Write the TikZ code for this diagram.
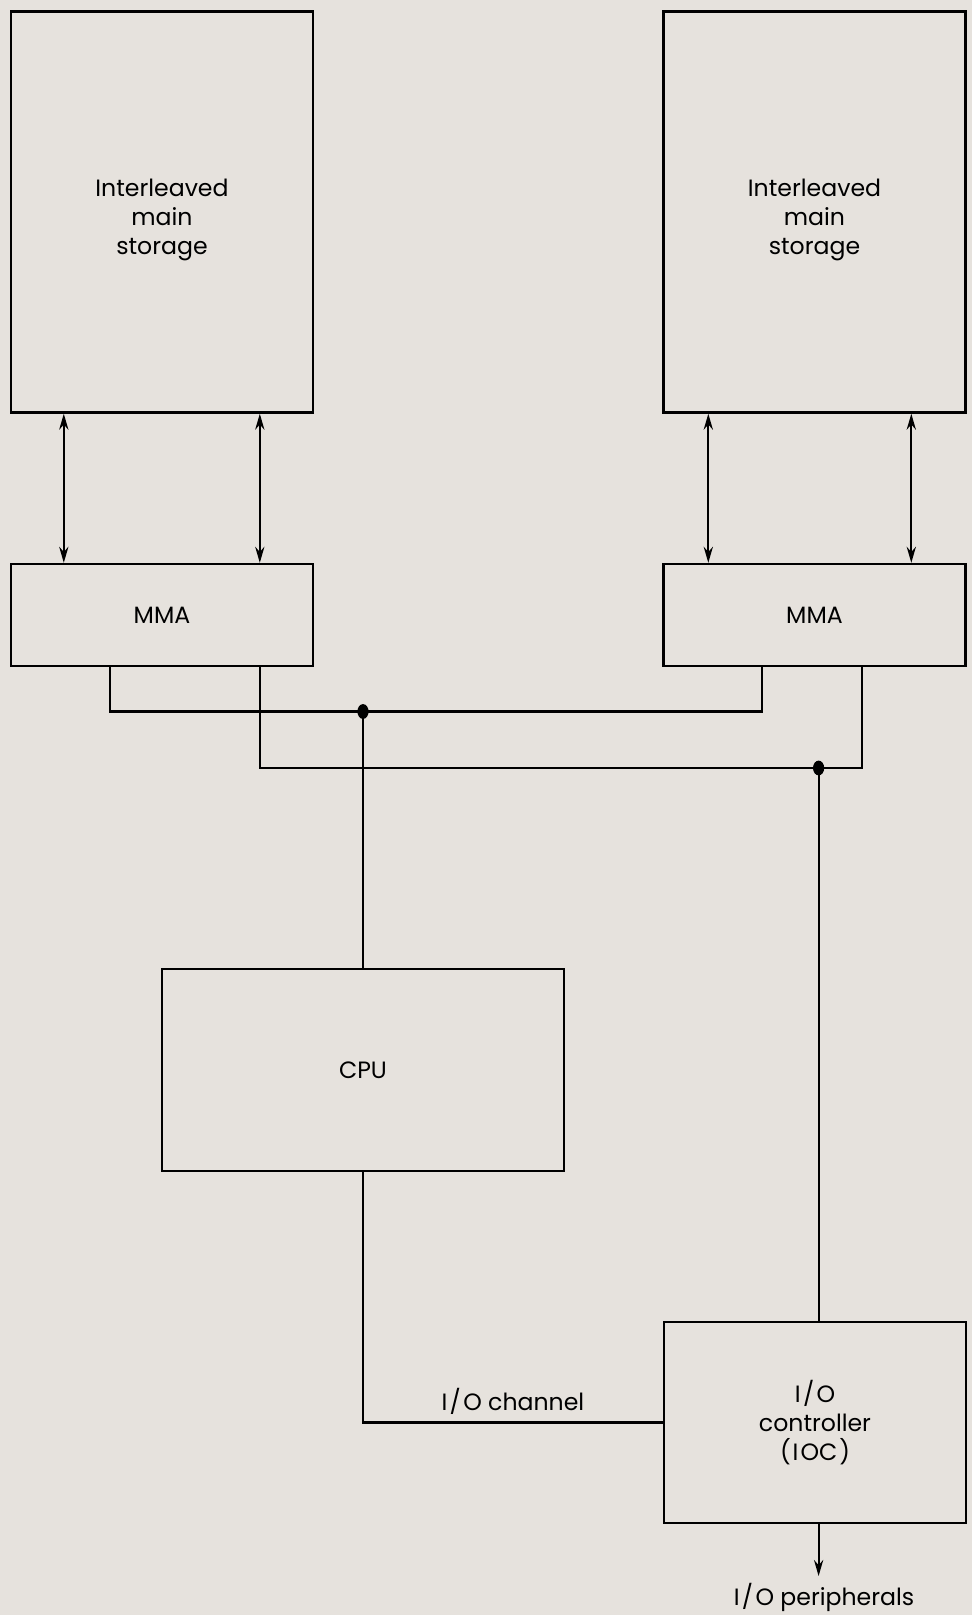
\documentclass[tikz,border=0pt]{standalone}
\usepackage{fontspec}
\setmainfont{Poppins}
\usetikzlibrary{arrows.meta, positioning, shapes.geometric}
\definecolor{paper}{HTML}{E6E2DD}
\newcommand{\iotext}{I\kern1.2pt/\kern1.2pt O}

\begin{document}
\begin{tikzpicture}[x=0.5pt, y=-0.5pt,
    box/.style={draw, line width=1.2pt, fill=paper, inner sep=0pt, align=center,
                font=\fontsize{11.8}{14.3}\selectfont},
    storebox/.style={box, minimum width=151pt, minimum height=200.5pt,
                label={[align=center, yshift=-4pt, font=\fontsize{11.8}{14.3}\selectfont]center:#1}},
    caption/.style={font=\fontsize{11.8}{14}\selectfont},
    link/.style={line width=1.1pt},
    biarrow/.style={link, {Stealth[length=8pt,width=4.6pt]}-{Stealth[length=8pt,width=4.6pt]}},
    outarrow/.style={link, -{Stealth[length=8pt,width=4.6pt]}},
    junction/.style={ellipse, fill, inner sep=0pt, minimum width=5.6pt, minimum height=7.4pt}]
  % paper
  \fill[paper] (0,0) rectangle (972,1615);
  \useasboundingbox (0,0) rectangle (972,1615);

  % storage and MMA
  \node[storebox={Interleaved\\main\\storage}] (stoL) at (162,212) {};
  \node[storebox={Interleaved\\main\\storage}] (stoR) at (814.5,212) {};
  \node[box, minimum width=151pt, minimum height=51pt] (mmaL) at (162,615) {MMA};
  \node[box, minimum width=151pt, minimum height=51pt] (mmaR) at (814.5,615) {MMA};

  \draw[biarrow] ([shift={(54,0)}]stoL.south west) -- ([shift={(54,0)}]mmaL.north west);
  \draw[biarrow] ([shift={(250,0)}]stoL.south west) -- ([shift={(250,0)}]mmaL.north west);
  \draw[biarrow] ([shift={(46,0)}]stoR.south west) -- ([shift={(46,0)}]mmaR.north west);
  \draw[biarrow] ([shift={(249,0)}]stoR.south west) -- ([shift={(249,0)}]mmaR.north west);

  % processor and I/O
  \node[box, minimum width=201pt, minimum height=101pt] (cpu) at (363,1070) {CPU};
  \node[box, minimum width=151pt, minimum height=100.5pt] (ioc) at (815,1422.5) {\iotext\\controller\\(\kern1pt I\kern1pt OC\kern1pt)};
  \node[caption, anchor=north] (perif) at (824,1576) {\iotext{} peripherals};

  % buses
  \coordinate (busA) at (363,711.5);
  \coordinate (busB) at (818.6,768);
  \draw[link] ([shift={(100,0)}]mmaL.south west) |- (busA) -| ([shift={(100,0)}]mmaR.south west);
  \draw[link] ([shift={(250,0)}]mmaL.south west) |- (busB) -| ([shift={(200,0)}]mmaR.south west);
  \node[junction] at (busA) {};
  \node[junction] at (busB) {};
  \draw[link] (busA) -- (cpu.north);
  \draw[link] (busB) -- (busB |- ioc.north);
  \draw[link] (cpu.south) |- node[pos=0.75, above, caption] {\iotext{} channel} (ioc.west);
  \draw[outarrow] (busB |- ioc.south) -- (busB |- perif.north);
\end{tikzpicture}
\end{document}
